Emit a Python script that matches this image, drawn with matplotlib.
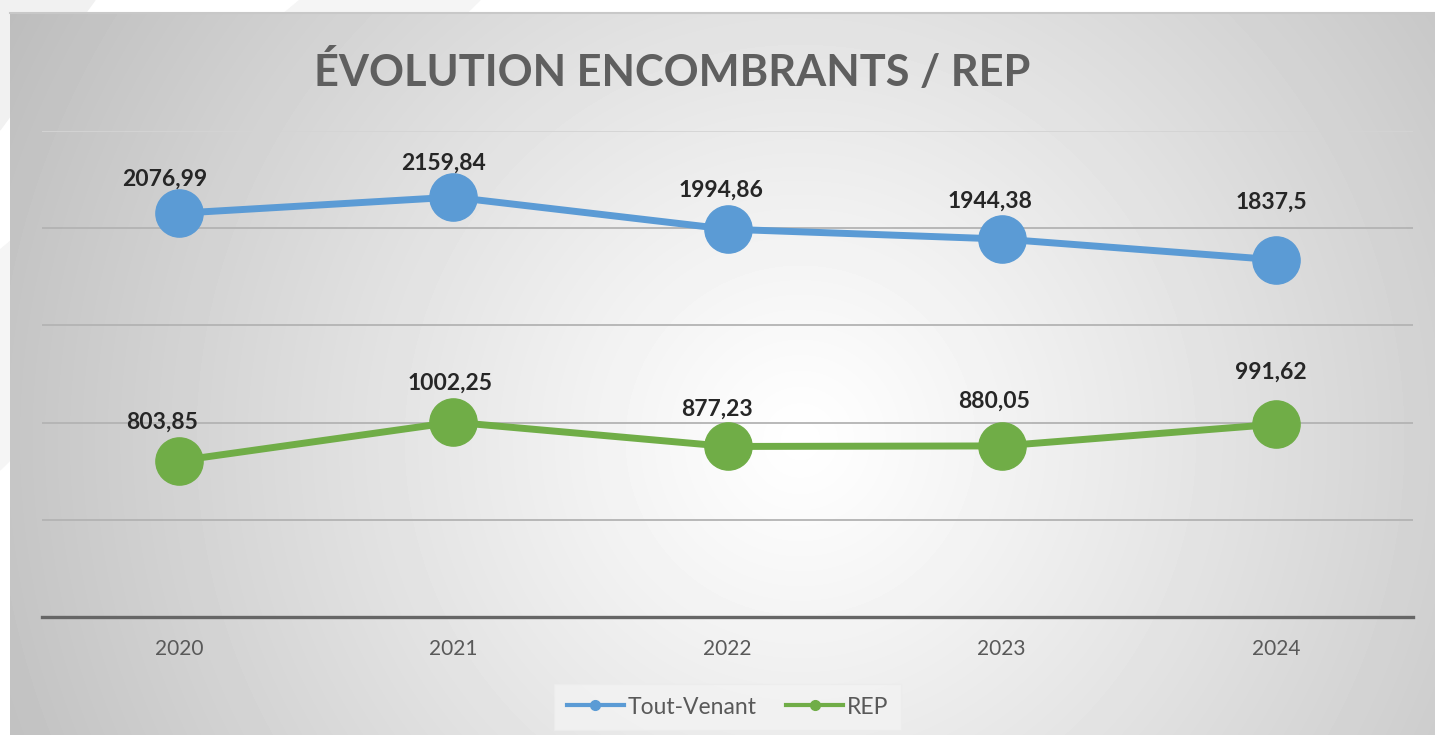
import numpy as np
import matplotlib
matplotlib.use("Agg")
import matplotlib.pyplot as plt
from matplotlib.lines import Line2D
from matplotlib.patches import Polygon

# data
years = ["2020", "2021", "2022", "2023", "2024"]
tout_venant = [2076.99, 2159.84, 1994.86, 1944.38, 1837.5]
rep = [803.85, 1002.25, 877.23, 880.05, 991.62]

# label nudges in pixels (dx, dy), as placed in the original
tv_nudge = [(-14, 34), (-10, 34), (-6, 39), (-12, 38), (-5, 58)]
rep_nudge = [(-17, 39), (-3, 39), (-10, 37), (-8, 45), (-5, 52)]

W, H = 1435, 735
BLUE = "#5B9BD5"
GREEN = "#70AD47"

plt.rcParams['font.family'] = ['Lato', 'DejaVu Sans']

fig = plt.figure(figsize=(W / 100, H / 100), dpi=100)
fig.patch.set_facecolor("white")

# faint decoration behind the panel
fig.add_artist(Polygon([(0, 1), (95 / W, 1), (0, 1 - 130 / H)], closed=True,
                       transform=fig.transFigure, color="#f1f1f1", zorder=0))
fig.add_artist(Polygon([(300 / W, 1), (480 / W, 1), (0, 1 - 470 / H), (0, 1 - 250 / H)],
                       closed=True, transform=fig.transFigure, color="#f5f5f5", zorder=0))

# radial gradient panel
bg = fig.add_axes([10 / W, 0, (W - 10) / W, (H - 12) / H], zorder=1)
xx, yy = np.meshgrid(np.arange(10, W), np.arange(12, H))
cx, cy = 800, 440
r = np.sqrt((xx - cx) ** 2 + (yy - cy) ** 2) / np.sqrt((cx - 10) ** 2 + (cy - 12) ** 2)
r = np.clip(r, 0, 1) ** 1.1
v = 1.0 - r * (1.0 - 0.74)
bg.imshow(v, cmap="gray", vmin=0, vmax=1, aspect="auto", interpolation="bilinear")
bg.axis("off")
fig.add_artist(Line2D([10 / W, 1], [1 - 12.5 / H] * 2, color="#c8c8c8", lw=1.5,
                      transform=fig.transFigure, zorder=2))

ax = fig.add_axes([42 / W, 118 / H, 1371 / W, 486 / H], zorder=3)
ax.patch.set_alpha(0)
x = np.arange(len(years))
ax.set_xlim(-0.5, 4.5)
ax.set_ylim(0, 2500)
ax.set_yticks(np.arange(0, 2501, 500))
ax.set_yticklabels([])
ax.tick_params(axis="y", length=0)
ax.tick_params(axis="x", length=0, pad=16, labelsize=15, labelcolor="#595959")
ax.set_xticks(x, years)
for s in ax.spines.values():
    s.set_visible(False)
ax.grid(axis="y", color="#b3b3b3", lw=1.3)
ax.get_ygridlines()[-1].set_color("#d4d4d4")
ax.axhline(0, color="#666666", lw=2.4, zorder=2, clip_on=False)

ax.plot(x, tout_venant, color=BLUE, lw=5, marker="o", ms=34, zorder=4)
ax.plot(x, rep, color=GREEN, lw=5, marker="o", ms=34, zorder=4)

for vals, nudges in [(tout_venant, tv_nudge), (rep, rep_nudge)]:
    for i, (val, (dx, dy)) in enumerate(zip(vals, nudges)):
        ax.annotate(str(val).replace(".", ","), (i, val), xytext=(dx, dy),
                    textcoords="offset pixels", ha="center", va="center",
                    fontsize=16.5, fontweight="bold", color="#262626", zorder=5)

fig.text(672 / W, 1 - 72 / H, "ÉVOLUTION ENCOMBRANTS / REP", ha="center", va="center",
         fontsize=31.2, fontweight="bold", color="#5f5f5f", zorder=5)

handles = [Line2D([], [], color=BLUE, lw=3, marker="o", ms=7),
           Line2D([], [], color=GREEN, lw=3, marker="o", ms=7)]
leg = fig.legend(handles, ["Tout-Venant", "REP"], loc="center",
                 bbox_to_anchor=(727.5 / W, 1 - 707 / H), ncol=2, fontsize=16.5,
                 labelcolor="#595959", handlelength=2.5, handletextpad=0.15,
                 columnspacing=1.3, frameon=True, fancybox=False,
                 facecolor="#f3f3f3", edgecolor="#ececec", borderpad=0.55)
leg.get_frame().set_linewidth(0.8)
leg.set_zorder(6)

fig.savefig("out.png", dpi=100)
